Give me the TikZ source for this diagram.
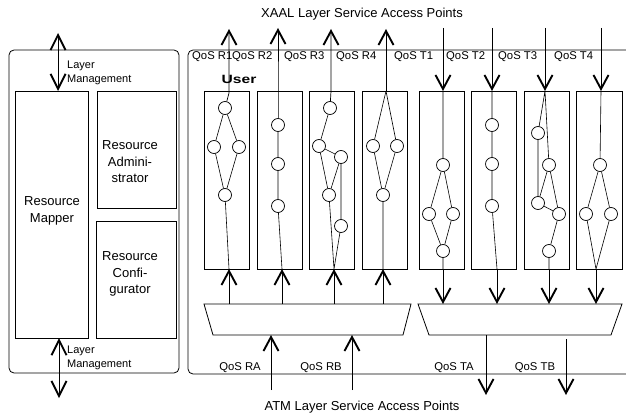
\documentclass[tikz,border=0pt]{standalone}
\usepackage{fontspec}
\setmainfont{Liberation Sans}
\usetikzlibrary{arrows.meta}
\begin{document}
\begin{tikzpicture}[x=1pt,y=-1pt,
  box/.style={draw,line width=0.8pt,inner sep=0pt,anchor=north west},
  col/.style={draw,line width=0.8pt,minimum width=45pt,minimum height=178pt,anchor=north west,inner sep=0pt},
  circ/.style={draw,circle,minimum size=13pt,inner sep=0pt,fill=white,line width=0.7pt},
  ln/.style={line width=0.6pt},
  arr/.style={line width=0.7pt,-{Straight Barb[length=14pt,width=15pt,line width=1.9pt]}},
  dbl/.style={line width=0.7pt,{Straight Barb[length=15pt,width=15pt,line width=1.9pt]}-{Straight Barb[length=15pt,width=15pt,line width=1.9pt]}},
  big/.style={font=\fontsize{13}{16.5}\selectfont,align=center,inner sep=0pt},
  lab/.style={font=\fontsize{11.3}{13}\selectfont,inner sep=0pt,anchor=west},
  lm/.style={font=\fontsize{11}{13.5}\selectfont,inner sep=0pt,anchor=west,align=left}
]
\useasboundingbox (0,0) rectangle (626,417);

% ---------- left management block
\draw[line width=0.8pt,rounded corners=5pt] (9,50) rectangle (179,373);
\node[box,minimum width=73pt,minimum height=247pt] (mapper) at (15,91) {};
\node[box,minimum width=79pt,minimum height=117pt] (admin) at (97,91) {};
\node[box,minimum width=80pt,minimum height=117pt] (conf) at (96,221) {};
\node[big] (mapperT) at (52,211) {Resource\\Mapper};
\node[big] (adminT) at (130,162) {Resource\\Admini-\\strator};
\node[big] (confT) at (130,274) {Resource\\Confi-\\gurator};

\coordinate (lmA1) at (58,33);
\coordinate (lmA2) at (58,91);
\draw[dbl] (lmA1) -- (lmA2);
\node[lm] (lmT1) at (67,73) {Layer\\Management};
\coordinate (lmB1) at (59,338);
\coordinate (lmB2) at (59,398);
\draw[dbl] (lmB1) -- (lmB2);
\node[lm] (lmT2) at (67,358) {Layer\\Management};

% ---------- right user block
\draw[line width=0.8pt,rounded corners=5pt] (626,50) -- (188,50) -- (188,374) -- (626,374);

\node[big] (xaal) at (362,14) {XAAL Layer Service Access Points};
\node[big] (atm) at (362,407) {ATM Layer Service Access Points};

\node[lab] (qr1) at (192,57) {QoS R1};
\node[lab] (qr2) at (232,57) {QoS R2};
\node[lab] (qr3) at (284,57) {QoS R3};
\node[lab] (qr4) at (336,57) {QoS R4};
\node[lab] (qt1) at (394,57) {QoS T1};
\node[lab] (qt2) at (446,57) {QoS T2};
\node[lab] (qt3) at (498,57) {QoS T3};
\node[lab] (qt4) at (554,57) {QoS T4};
\node[inner sep=0pt] (user) at (239,79) {\scalebox{1.3}[1]{\fontsize{12}{14}\selectfont\bfseries User}};

% columns
\node[col] (R1) at (204,91) {};
\node[col] (R2) at (257,91) {};
\node[col] (R3) at (309,91) {};
\node[col] (R4) at (362,91) {};
\node[col] (T1) at (419,91) {};
\node[col] (T2) at (471,91) {};
\node[col] (T3) at (524,91) {};
\node[col,minimum width=46pt] (T4) at (576,91) {};

% multiplexers
\coordinate (mrA) at (204,304); \coordinate (mrB) at (411,304);
\coordinate (mrC) at (403,335); \coordinate (mrD) at (213,335);
\draw[line width=0.8pt] (mrA) -- (mrB) -- (mrC) -- (mrD) -- cycle;
\coordinate (mtA) at (418,304); \coordinate (mtB) at (622,304);
\coordinate (mtC) at (611,335); \coordinate (mtD) at (429,335);
\draw[line width=0.8pt] (mtA) -- (mtB) -- (mtC) -- (mtD) -- cycle;

% ---------- R1
\coordinate (r1in) at (229,93); \coordinate (r1tip) at (229,29);
\coordinate (r1out) at (229,269); \coordinate (r1src) at (229,304);
\node[circ] (r1a) at (225,108) {};
\node[circ] (r1b) at (214,147) {};
\node[circ] (r1c) at (239,147) {};
\node[circ] (r1d) at (225,195) {};
\draw[ln] (r1a)--(r1b) (r1a)--(r1c) (r1b)--(r1d) (r1c)--(r1d) (r1d)--(r1out);
\draw[arr] (r1a) -- (r1in) -- (r1tip);
\draw[arr] (r1src) -- (r1out);

% ---------- R2
\coordinate (r2in) at (278,91); \coordinate (r2tip) at (278,28);
\coordinate (r2out) at (282,269); \coordinate (r2src) at (282,304);
\node[circ] (r2a) at (278,125) {};
\node[circ] (r2b) at (278,164) {};
\node[circ] (r2c) at (278,206) {};
\draw[ln] (r2a)--(r2b) (r2b)--(r2c) (r2c)--(r2out);
\draw[arr] (r2a) -- (r2in) -- (r2tip);
\draw[arr] (r2src) -- (r2out);

% ---------- R3
\coordinate (r3in) at (331,91); \coordinate (r3tip) at (331,29);
\coordinate (r3out) at (334,269); \coordinate (r3src) at (334,304);
\node[circ] (r3a) at (330,108) {};
\node[circ] (r3b) at (319,146) {};
\node[circ] (r3c) at (341,157) {};
\node[circ] (r3d) at (329,195) {};
\node[circ] (r3e) at (341,226) {};
\draw[ln] (r3a)--(r3b) (r3b)--(r3c) (r3b)--(r3d) (r3c)--(r3d) (r3c)--(r3e) (r3d)--(r3out) (r3e)--(r3out);
\draw[arr] (r3a) -- (r3in) -- (r3tip);
\draw[arr] (r3src) -- (r3out);

% ---------- R4
\coordinate (r4in) at (386,91); \coordinate (r4tip) at (386,29);
\coordinate (r4out) at (383,269); \coordinate (r4src) at (383,304);
\node[circ] (r4a) at (373,146) {};
\node[circ] (r4b) at (397,146) {};
\node[circ] (r4c) at (383,195) {};
\draw[ln] (r4in)--(r4a) (r4in)--(r4b) (r4a)--(r4c) (r4b)--(r4c) (r4c)--(r4out);
\draw[arr] (r4in) -- (r4tip);
\draw[arr] (r4src) -- (r4out);

% ---------- T1
\coordinate (t1src) at (443,28); \coordinate (t1in) at (443,91);
\coordinate (t1out) at (443,269); \coordinate (t1tip) at (443,304);
\node[circ] (t1a) at (443,165) {};
\node[circ] (t1b) at (429,214) {};
\node[circ] (t1c) at (453,214) {};
\node[circ] (t1d) at (443,251) {};
\draw[ln] (t1in)--(t1a) (t1a)--(t1b) (t1a)--(t1c) (t1b)--(t1d) (t1c)--(t1d) (t1d)--(t1out);
\draw[arr] (t1src) -- (t1in);
\draw[arr] (t1out) -- (t1tip);

% ---------- T2
\coordinate (t2src) at (492,28); \coordinate (t2in) at (492,91);
\coordinate (t2out) at (497,269); \coordinate (t2tip) at (497,304);
\node[circ] (t2a) at (492,125) {};
\node[circ] (t2b) at (492,164) {};
\node[circ] (t2c) at (492,206) {};
\draw[ln] (t2in)--(t2a) (t2a)--(t2b) (t2b)--(t2c) (t2c)--(t2out);
\draw[arr] (t2src) -- (t2in);
\draw[arr] (t2out) -- (t2tip);

% ---------- T3
\coordinate (t3src) at (545,28); \coordinate (t3in) at (545,91);
\coordinate (t3out) at (549,269); \coordinate (t3tip) at (549,304);
\node[circ] (t3a) at (538,133) {};
\node[circ] (t3b) at (549,165) {};
\node[circ] (t3c) at (538,203) {};
\node[circ] (t3d) at (559,214) {};
\node[circ] (t3e) at (549,251) {};
\draw[ln] (t3in)--(t3a) (t3in)--(t3b) (t3a)--(t3c) (t3b)--(t3c) (t3c)--(t3d) (t3b)--(t3d) (t3d)--(t3e) (t3e)--(t3out);
\draw[arr] (t3src) -- (t3in);
\draw[arr] (t3out) -- (t3tip);

% ---------- T4
\coordinate (t4src) at (601,28); \coordinate (t4in) at (601,91);
\coordinate (t4out) at (596,269); \coordinate (t4tip) at (596,304);
\node[circ] (t4a) at (600,165) {};
\node[circ] (t4b) at (586,214) {};
\node[circ] (t4c) at (611,214) {};
\draw[ln] (t4in)--(t4a) (t4a)--(t4b) (t4a)--(t4c) (t4b)--(t4out) (t4c)--(t4out);
\draw[arr] (t4src) -- (t4in);
\draw[arr] (t4out) -- (t4tip);

% ---------- ATM side
\coordinate (raS) at (271,390); \coordinate (raT) at (271,335);
\coordinate (rbS) at (352,390); \coordinate (rbT) at (352,335);
\coordinate (taS) at (486,335); \coordinate (taT) at (486,395);
\coordinate (tbS) at (566,339); \coordinate (tbT) at (566,395);
\draw[arr] (raS) -- (raT);
\draw[arr] (rbS) -- (rbT);
\draw[arr] (taS) -- (taT);
\draw[arr] (tbS) -- (tbT);
\node[lab,anchor=center] (qra) at (240,368) {QoS RA};
\node[lab,anchor=center] (qrb) at (321,368) {QoS RB};
\node[lab,anchor=center] (qta) at (454,368) {QoS TA};
\node[lab,anchor=center] (qtb) at (535,368) {QoS TB};
\end{tikzpicture}
\end{document}
